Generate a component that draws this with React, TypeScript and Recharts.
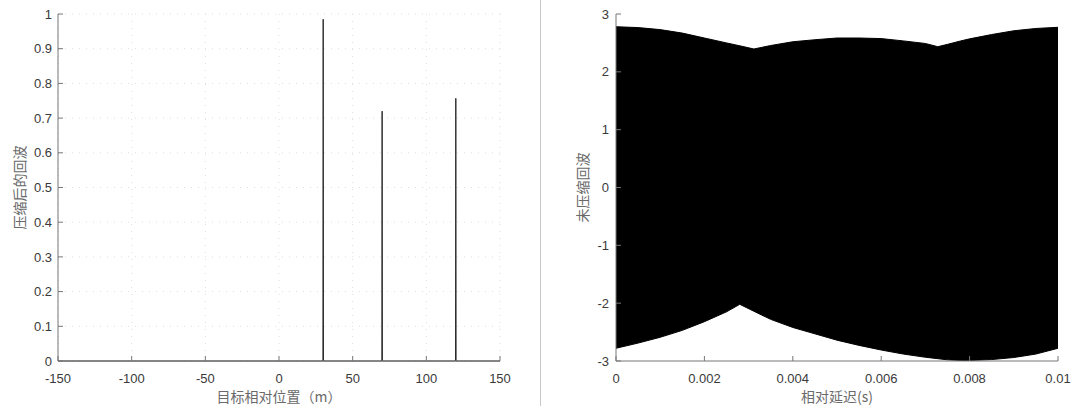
import React from 'react';
import { LineChart, Line, AreaChart, Area, XAxis, YAxis, CartesianGrid, Label } from 'recharts';

// ---- Left chart: compressed echo vs relative target position ----
const rangeAxis = [-150, 29.8, 30, 30.2, 69.8, 70, 70.2, 119.8, 120, 120.2, 150];
const compressedEcho = [0, 0, 0.985, 0, 0, 0.72, 0, 0, 0.757, 0, 0];
const rangeTicks = [-150, -100, -50, 0, 50, 100, 150];
const ampTicks = [0, 0.1, 0.2, 0.3, 0.4, 0.5, 0.6, 0.7, 0.8, 0.9, 1];

// ---- Right chart: uncompressed echo envelope vs relative delay ----
const delayAxis = [0, 0.0005, 0.001, 0.0015, 0.002, 0.0025, 0.0028, 0.00312, 0.0035, 0.004, 0.0045, 0.005, 0.0055, 0.006, 0.0065, 0.007, 0.00728, 0.0075, 0.0078, 0.008, 0.0085, 0.009, 0.0095, 0.01];
const upperEnv = [2.78, 2.765, 2.73, 2.67, 2.585, 2.5, 2.45, 2.395, 2.455, 2.52, 2.555, 2.585, 2.585, 2.575, 2.535, 2.49, 2.435, 2.475, 2.535, 2.57, 2.645, 2.71, 2.75, 2.77];
const lowerEnv = [-2.78, -2.69, -2.59, -2.47, -2.32, -2.15, -2.02, -2.14, -2.28, -2.42, -2.53, -2.64, -2.73, -2.81, -2.88, -2.935, -2.96, -2.98, -2.99, -2.99, -2.975, -2.94, -2.88, -2.78];
const delayTicks = [0, 0.002, 0.004, 0.006, 0.008, 0.01];
const echoTicks = [-3, -2, -1, 0, 1, 2, 3];

const leftData = rangeAxis.map((x, i) => ({ x, y: compressedEcho[i] }));
const rightData = delayAxis.map((t, i) => ({ t, env: [lowerEnv[i], upperEnv[i]] }));

const TICK_FONT = '"Liberation Sans", Arial, sans-serif';
const TITLE_FONT = '"Noto Sans CJK SC", "Noto Sans", sans-serif';
const AXIS_COLOR = '#777777';
const tickStyle = { fontSize: 13, fill: '#3a3a3a', fontFamily: TICK_FONT };
const noTick = () => <g />;

const yTitle = (text: string, gap: number) => (props: any) => {
  const vb = props.viewBox || {};
  const cx = vb.x + vb.width - gap;
  const cy = vb.y + vb.height / 2;
  return (
    <text x={cx} y={cy} transform={`rotate(-90 ${cx} ${cy})`} textAnchor="middle" dominantBaseline="central"
      fontSize={14} fill="#6a6a6a" fontFamily={TITLE_FONT}>{text}</text>
  );
};

const xTitle = (text: string) => (props: any) => {
  const vb = props.viewBox || {};
  const cx = vb.x + vb.width / 2;
  const by = vb.y + vb.height - 4;
  return (
    <text x={cx} y={by} textAnchor="middle" fontSize={14} fill="#6a6a6a" fontFamily={TITLE_FONT}>{text}</text>
  );
};

export default function App() {
  return (
    <div style={{ position: 'absolute', left: 0, top: 0, width: 1074, height: 406, background: '#fff', overflow: 'hidden' }}>
      <div style={{ position: 'absolute', left: 0, top: 0 }}>
        <LineChart width={540} height={406} data={leftData} margin={{ top: 14, right: 40, bottom: 0, left: 0 }}>
          <CartesianGrid stroke="#dedede" strokeDasharray="1 6" />
          <XAxis dataKey="x" type="number" domain={[-150, 150]} ticks={rangeTicks} height={45}
            tickSize={-5} tickMargin={18} stroke={AXIS_COLOR} tick={tickStyle} interval={0}>
            <Label content={xTitle('目标相对位置（m）')} />
          </XAxis>
          <XAxis xAxisId="top" orientation="top" type="number" domain={[-150, 150]} ticks={rangeTicks} height={0}
            tickSize={-5} stroke={AXIS_COLOR} tick={noTick} interval={0} />
          <YAxis type="number" domain={[0, 1]} ticks={ampTicks} width={58} tickSize={-5} tickMargin={11}
            stroke={AXIS_COLOR} tick={tickStyle} interval={0}>
            <Label content={yTitle('压缩后的回波', 39)} />
          </YAxis>
          <YAxis yAxisId="right" orientation="right" type="number" domain={[0, 1]} ticks={ampTicks} width={0}
            tickSize={-5} stroke={AXIS_COLOR} tick={noTick} interval={0} />
          <Line type="linear" dataKey="y" stroke="#2a2a2a" strokeWidth={1} dot={false} isAnimationActive={false} />
        </LineChart>
      </div>
      <div style={{ position: 'absolute', left: 540, top: 0, width: 1, height: 406, background: '#c8c8c8' }} />
      <div style={{ position: 'absolute', left: 540, top: 0 }}>
        <AreaChart width={534} height={406} data={rightData} margin={{ top: 14, right: 16, bottom: 0, left: 0 }}>
          <XAxis dataKey="t" type="number" domain={[0, 0.01]} ticks={delayTicks} height={45}
            tickSize={-5} tickMargin={18} stroke={AXIS_COLOR} tick={tickStyle} interval={0}>
            <Label content={xTitle('相对延迟(s)')} />
          </XAxis>
          <XAxis xAxisId="top" orientation="top" type="number" domain={[0, 0.01]} ticks={delayTicks} height={0}
            tickSize={-5} stroke={AXIS_COLOR} tick={noTick} interval={0} />
          <YAxis type="number" domain={[-3, 3]} ticks={echoTicks} width={76} tickSize={-5} tickMargin={12}
            stroke={AXIS_COLOR} tick={tickStyle} interval={0}>
            <Label content={yTitle('未压缩回波', 34)} />
          </YAxis>
          <YAxis yAxisId="right" orientation="right" type="number" domain={[-3, 3]} ticks={echoTicks} width={0}
            tickSize={-5} stroke={AXIS_COLOR} tick={noTick} interval={0} />
          <Area type="linear" dataKey="env" stroke="#000" strokeWidth={1} fill="#000" fillOpacity={1} isAnimationActive={false} />
        </AreaChart>
      </div>
    </div>
  );
}
